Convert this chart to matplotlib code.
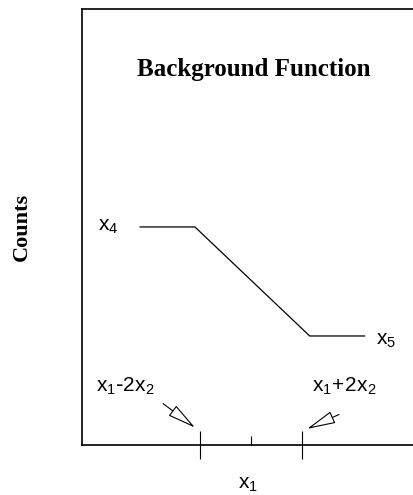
import numpy as np
import matplotlib.pyplot as plt
from matplotlib.ticker import FixedLocator, NullFormatter

# background function: flat at x4, linear ramp, flat at x5 (x1 = 0, x2 = 1)
bg_x = [-4.35, -2.2, 2.3, 4.45]
bg_y = [5.0, 5.0, 2.5, 2.5]
major_ticks = [-2, 2]      # x1-2x2, x1+2x2
minor_ticks = [0]          # x1
x4_label = r'$\mathregular{x_4}$'
x5_label = r'$\mathregular{x_5}$'
lo_label = r'$\mathregular{x_1\text{-}2x_2}$'
hi_label = r'$\mathregular{x_1\!+\!2x_2}$'
x1_label = r'$\mathregular{x_1}$'

plt.rcParams['font.family'] = 'Liberation Sans'
plt.rcParams['mathtext.default'] = 'regular'

fig = plt.figure(figsize=(4.14, 4.95), dpi=100)
ax = fig.add_axes([0.198, 0.101, 0.802, 0.881])

ax.plot(bg_x, bg_y, color='black', lw=0.9)

ax.set_xlim(-6.63, 6.39)
ax.set_ylim(0, 10)

ax.spines['right'].set_visible(False)
for s in ['left', 'top', 'bottom']:
    ax.spines[s].set_linewidth(1.2)

ax.yaxis.set_ticks([])
ax.xaxis.set_major_locator(FixedLocator(major_ticks))
ax.xaxis.set_minor_locator(FixedLocator(minor_ticks))
ax.xaxis.set_major_formatter(NullFormatter())
ax.tick_params(axis='x', which='major', direction='inout', length=19.5, width=0.8)
ax.tick_params(axis='x', which='minor', direction='in', length=6.5, width=0.8)

ax.text(0.1, 8.6, 'Background Function', family='Liberation Serif',
        fontweight='bold', fontsize=18, ha='center', va='center')
ax.set_ylabel('Counts', family='Liberation Serif', fontweight='bold',
              fontsize=16, labelpad=36)
ax.set_xlabel(x1_label, fontsize=15, labelpad=8)

ax.text(-5.6, 5.0, x4_label, fontsize=15, ha='center', va='center')
ax.text(5.3, 2.4, x5_label, fontsize=15, ha='center', va='center')

arrow = dict(arrowstyle='-|>,head_length=1.8,head_width=0.4',
             fc='white', ec='black', lw=0.8, shrinkA=0, shrinkB=0)
ax.annotate('', xy=(-2.2, 0.4), xytext=(-3.45, 0.95), arrowprops=arrow)
ax.annotate('', xy=(2.2, 0.37), xytext=(3.45, 0.7), arrowprops=arrow)
ax.text(-4.95, 1.35, lo_label, fontsize=15, ha='center', va='center')
ax.text(3.65, 1.35, hi_label, fontsize=15, ha='center', va='center')

fig.savefig('out.png', dpi=100)
